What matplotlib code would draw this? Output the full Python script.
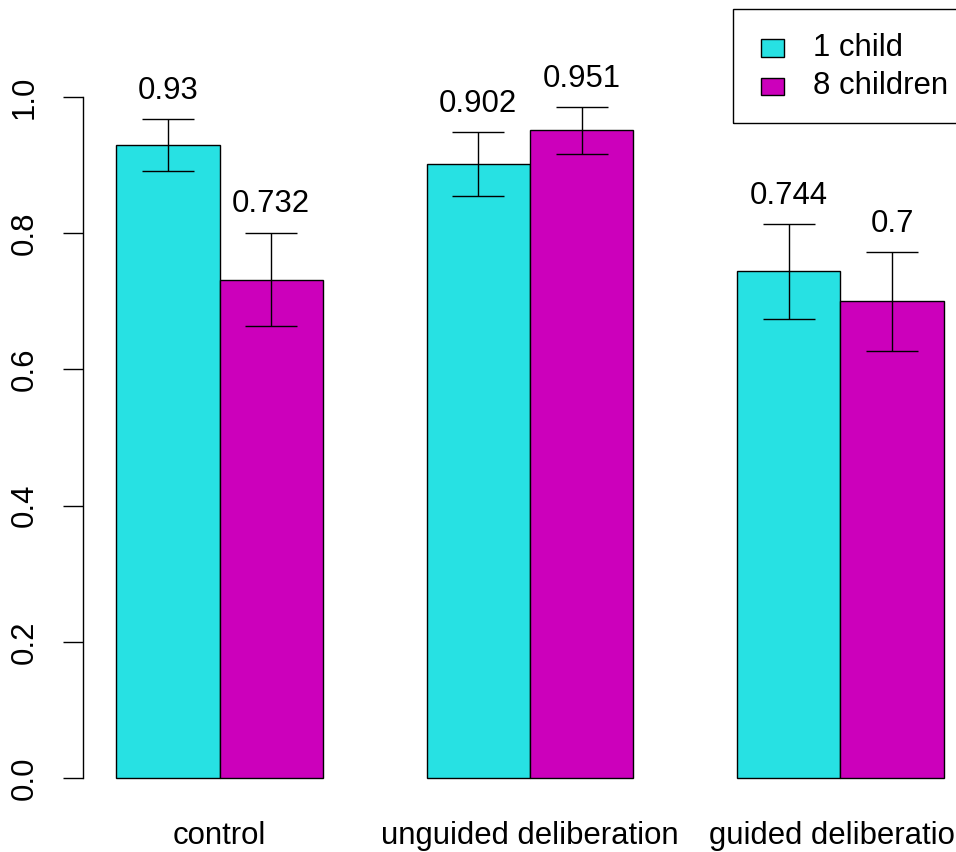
import matplotlib
matplotlib.use("Agg")
import matplotlib.pyplot as plt
from matplotlib.patches import Rectangle

categories = ["control", "unguided deliberation", "guided deliberation"]
series_names = ["1 child", "8 children"]
one_child = [0.930, 0.902, 0.744]
eight_children = [0.732, 0.951, 0.700]
one_child_err = [0.038, 0.047, 0.070]
eight_children_err = [0.069, 0.034, 0.073]
value_labels_one = ["0.93", "0.902", "0.744"]
value_labels_eight = ["0.732", "0.951", "0.7"]
yticks = [0.0, 0.2, 0.4, 0.6, 0.8, 1.0]
ytick_labels = ["0.0", "0.2", "0.4", "0.6", "0.8", "1.0"]

colors = ["#27E1E3", "#CC00BB"]
FS = 22.4

W, H = 956, 852
fig = plt.figure(figsize=(W / 100, H / 100), dpi=100)
plt.rcParams['font.family'] = ['Liberation Sans', 'DejaVu Sans']

# plot region in pixels (R-like, extends beyond the right edge)
left_px, right_px = 82.9, 977.1
top_px, bottom_px = 9.8, 807.6
ax = fig.add_axes([left_px / W, 1 - bottom_px / H,
                   (right_px - left_px) / W, (bottom_px - top_px) / H])
ax.set_xlim(0.68, 9.32)
ax.set_ylim(-0.0434, 1.128)

series = [(one_child, one_child_err, value_labels_one, -0.5),
          (eight_children, eight_children_err, value_labels_eight, 0.5)]
for si, (vals, errs, labs, off) in enumerate(series):
    xs = [3 * g + 2 + off for g in range(len(categories))]
    ax.bar(xs, vals, width=1.0, color=colors[si], edgecolor="black",
           linewidth=1.0, zorder=2)
    ax.errorbar(xs, vals, yerr=errs, fmt="none", ecolor="black",
                elinewidth=1.0, capsize=19, capthick=1.0, zorder=3)
    for x, v, e, l in zip(xs, vals, errs, labs):
        ax.text(x, v + e + 0.0294, l, ha="center", va="baseline",
                fontsize=FS, clip_on=False)

for g, c in enumerate(categories):
    ax.text(3 * g + 2, -0.0975, c, ha="center", va="baseline",
            fontsize=FS, clip_on=False)

for s in ["top", "right", "bottom"]:
    ax.spines[s].set_visible(False)
ax.spines["left"].set_bounds(0, 1)
ax.spines["left"].set_linewidth(1.0)
ax.set_xticks([])
ax.set_yticks(yticks)
ax.set_yticklabels(ytick_labels, rotation=90, va="center", fontsize=FS)
ax.tick_params(axis="y", length=14.4, width=1.0, pad=17)

# legend (R-style, top-right of plot region)
def fx(px):
    return px / W

def fy(py):
    return 1 - py / H

fig.add_artist(Rectangle((fx(733), fy(123)), fx(977) - fx(733), fy(9.5) - fy(123),
                         transform=fig.transFigure, fill=False,
                         edgecolor="black", linewidth=1.0))
for i, name in enumerate(series_names):
    cy = 48 + i * 38.5
    fig.add_artist(Rectangle((fx(761), fy(cy + 8.7)), fx(784) - fx(761), fy(cy - 8.7) - fy(cy + 8.7),
                             transform=fig.transFigure, facecolor=colors[i],
                             edgecolor="black", linewidth=1.0))
    fig.text(fx(813), fy(cy), name, ha="left", va="center", fontsize=FS)

fig.savefig("out.png", dpi=100)
